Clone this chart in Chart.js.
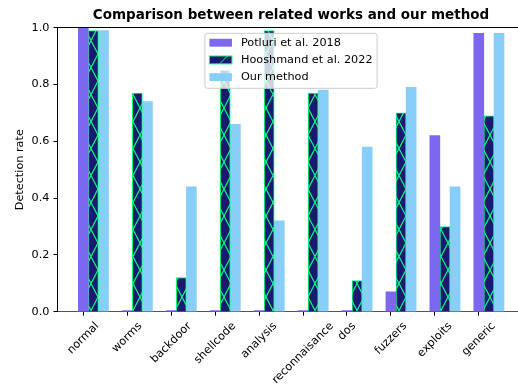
<!DOCTYPE html>
<html>
<head>
<meta charset="utf-8">
<script src="https://cdn.jsdelivr.net/npm/chart.js@4.4.1/dist/chart.umd.min.js"></script>
<style>
html, body { margin: 0; padding: 0; overflow: hidden; background: #fff; }
</style>
</head>
<body>
<canvas id="chart" width="545" height="387"></canvas>
<script>
const categories = ['normal', 'worms', 'backdoor', 'shellcode', 'analysis', 'reconnaisance', 'dos', 'fuzzers', 'exploits', 'generic'];
const potluri = [1.0, 0.004, 0.004, 0.004, 0.004, 0.004, 0.004, 0.07, 0.62, 0.98];
const hooshmand = [0.99, 0.77, 0.12, 0.85, 0.99, 0.77, 0.11, 0.70, 0.30, 0.69];
const ours = [0.99, 0.74, 0.44, 0.66, 0.32, 0.78, 0.58, 0.79, 0.44, 0.98];
const seriesNames = ['Potluri et al. 2018', 'Hooshmand et al. 2022', 'Our method'];
const yTicks = [0, 0.2, 0.4, 0.6, 0.8, 1.0];

const FONT = 'DejaVu Sans';
const FS = 11.25;
const barShift = 0.23; // distance between bars of one group, in category units
const GREEN = '#00ff7f';

Chart.defaults.font.family = FONT;
Chart.defaults.color = '#000';

const ctx = document.getElementById('chart').getContext('2d');

// hatch fill for the Hooshmand bars
function makeHatch() {
    const t = document.createElement('canvas');
    t.width = 14; t.height = 27;
    const c = t.getContext('2d');
    c.fillStyle = '#191970';
    c.fillRect(0, 0, 14, 27);
    c.strokeStyle = GREEN;
    c.lineWidth = 1.2;
    c.beginPath();
    for (const dx of [-14, 0, 14]) {
        c.moveTo(dx, 0); c.lineTo(dx + 14, 27);
        c.moveTo(dx + 14, 0); c.lineTo(dx, 27);
    }
    c.stroke();
    return ctx.createPattern(t, 'repeat');
}

function points(values, k) {
    return values.map((v, i) => ({ x: i + k * barShift, y: v }));
}

const decor = {
    id: 'decor',
    afterDraw(chart) {
        const c = chart.ctx;
        const a = chart.chartArea;
        const x = chart.scales.x;
        c.save();

        // top spine
        c.strokeStyle = '#000';
        c.lineWidth = 1;
        c.beginPath();
        c.moveTo(a.left, Math.floor(a.top) + 0.5);
        c.lineTo(a.right, Math.floor(a.top) + 0.5);
        c.stroke();

        // rotated category labels, centred under each tick
        c.font = FS + 'px "' + FONT + '"';
        c.fillStyle = '#000';
        c.textAlign = 'center';
        c.textBaseline = 'middle';
        categories.forEach((name, i) => {
            const w = c.measureText(name).width;
            const half = (w + 13) * Math.SQRT1_2 / 2;
            c.save();
            c.translate(x.getPixelForValue(i), a.bottom + 8 + half);
            c.rotate(-Math.PI / 4);
            c.fillText(name, 0, 0);
            c.restore();
        });

        // legend
        const tw = Math.max(...seriesNames.map(n => c.measureText(n).width));
        const handleW = 2 * FS, handleH = 0.7 * FS, pad = 0.4 * FS, gap = 0.8 * FS;
        const boxW = pad * 2 + handleW + gap + tw;
        const boxH = 55;
        const bx = (a.left + a.right) / 2 - boxW / 2;
        const by = a.top + 0.5 * FS;
        c.beginPath();
        c.roundRect(bx, by, boxW, boxH, 2.5);
        c.fillStyle = 'rgba(255,255,255,0.8)';
        c.fill();
        c.strokeStyle = '#cccccc';
        c.lineWidth = 1;
        c.stroke();

        c.textAlign = 'left';
        seriesNames.forEach((name, k) => {
            const cy = by + 9.4 + k * 17.2;
            const hx = bx + pad;
            const hy = cy - handleH / 2;
            if (k === 0) {
                c.fillStyle = '#7b68ee';
                c.fillRect(hx, hy, handleW, handleH);
            } else if (k === 1) {
                c.fillStyle = '#191970';
                c.fillRect(hx, hy, handleW, handleH);
                c.strokeStyle = GREEN;
                c.lineWidth = 1;
                c.beginPath();
                c.moveTo(hx + handleW * 0.45, hy + handleH);
                c.lineTo(hx + handleW * 0.8, hy);
                c.stroke();
                c.strokeRect(hx, hy, handleW, handleH);
            } else {
                c.fillStyle = '#87cefa';
                c.fillRect(hx, hy, handleW, handleH);
            }
            c.fillStyle = '#000';
            c.fillText(name, hx + handleW + gap, cy);
        });
        c.restore();
    }
};

new Chart(ctx, {
    type: 'bar',
    data: {
        datasets: [{
            label: seriesNames[0],
            data: points(potluri, 0),
            backgroundColor: '#7b68ee'
        }, {
            label: seriesNames[1],
            data: points(hooshmand, 1),
            backgroundColor: makeHatch(),
            borderColor: GREEN,
            borderWidth: 1
        }, {
            label: seriesNames[2],
            data: points(ours, 2),
            backgroundColor: '#87cefa'
        }]
    },
    options: {
        responsive: false,
        animation: false,
        layout: { padding: { left: 0, right: 20.5, top: 0, bottom: 0 } },
        datasets: {
            bar: { grouped: false, barThickness: 10, maxBarThickness: 10 }
        },
        plugins: {
            legend: { display: false },
            tooltip: { enabled: false },
            title: {
                display: true,
                fullSize: false,
                text: 'Comparison between related works and our method',
                color: '#000',
                font: { size: 13.5, weight: 'bold' },
                padding: { top: 7.4, bottom: 4.1 }
            }
        },
        scales: {
            x: {
                type: 'linear',
                min: -0.587,
                max: 10.04,
                offset: false,
                z: 1,
                afterBuildTicks: s => { s.ticks = categories.map((c, i) => ({ value: i })); },
                afterFit: s => { s.height = 75.3; },
                ticks: { display: false },
                grid: { offset: false, drawOnChartArea: false, drawTicks: true, tickLength: 4, color: '#000' },
                border: { color: '#555', width: 1 }
            },
            y: {
                min: 0,
                max: 1,
                afterBuildTicks: s => { s.ticks = yTicks.map(v => ({ value: v })); },
                afterFit: s => { s.width = 57.5; },
                ticks: { callback: v => v.toFixed(1), font: { size: FS }, color: '#000', padding: 4 },
                grid: { drawOnChartArea: false, tickLength: 4, color: '#000' },
                border: { color: '#000' },
                title: {
                    display: true,
                    text: 'Detection rate',
                    color: '#000',
                    font: { size: FS },
                    padding: { top: 13, bottom: 0 }
                }
            }
        }
    },
    plugins: [decor]
});
</script>
</body>
</html>
